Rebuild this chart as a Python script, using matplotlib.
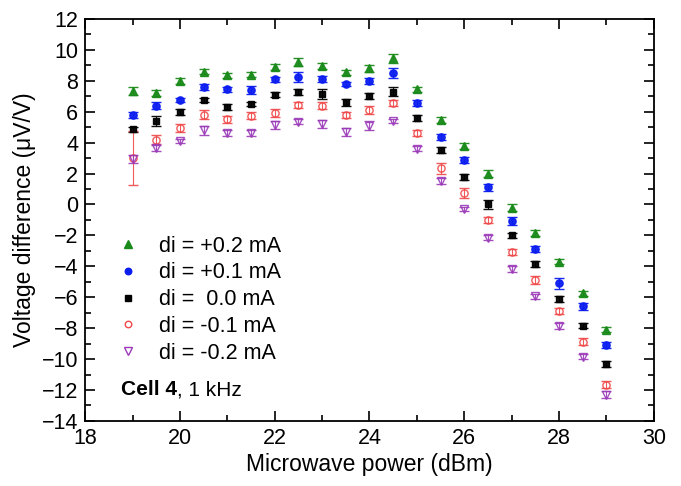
import matplotlib
matplotlib.use("Agg")
import matplotlib.pyplot as plt
from matplotlib.lines import Line2D
from matplotlib.ticker import MultipleLocator

plt.rcParams['font.family'] = ['Liberation Sans', 'DejaVu Sans']

power = [19, 19.5, 20, 20.5, 21, 21.5, 22, 22.5, 23, 23.5, 24, 24.5,
         25, 25.5, 26, 26.5, 27, 27.5, 28, 28.5, 29]

v_p02 = [7.35, 7.2, 8.0, 8.6, 8.35, 8.4, 8.9, 9.2, 8.95, 8.55, 8.8, 9.45,
         7.45, 5.45, 3.8, 2.0, -0.2, -1.86, -3.7, -5.75, -8.1]
e_p02 = [0.25, 0.2, 0.2, 0.15, 0.15, 0.15, 0.2, 0.25, 0.2, 0.15, 0.2, 0.3,
         0.15, 0.2, 0.2, 0.2, 0.2, 0.2, 0.15, 0.15, 0.15]

v_p01 = [5.8, 6.4, 6.75, 7.6, 7.45, 7.4, 8.1, 8.25, 8.1, 7.8, 8.0, 8.5,
         6.55, 4.35, 2.9, 1.1, -1.05, -2.88, -5.1, -6.6, -9.1]
e_p01 = [0.2, 0.25, 0.15, 0.2, 0.15, 0.25, 0.15, 0.3, 0.2, 0.15, 0.2, 0.3,
         0.2, 0.2, 0.2, 0.2, 0.25, 0.2, 0.35, 0.2, 0.2]

v_000 = [4.85, 5.4, 6.0, 6.75, 6.3, 6.5, 7.1, 7.3, 7.15, 6.6, 7.0, 7.3,
         5.6, 3.5, 1.8, 0.0, -2.0, -3.87, -6.1, -7.85, -10.3]
e_000 = [0.15, 0.3, 0.2, 0.15, 0.2, 0.15, 0.15, 0.2, 0.3, 0.2, 0.2, 0.3,
         0.2, 0.2, 0.2, 0.3, 0.15, 0.2, 0.2, 0.15, 0.2]

v_m01 = [3.0, 4.2, 4.95, 5.8, 5.5, 5.75, 5.9, 6.45, 6.4, 5.8, 6.1, 6.55,
         4.6, 2.35, 0.75, -1.0, -3.05, -4.88, -6.9, -8.87, -11.65]
e_m01 = [1.72, 0.3, 0.25, 0.3, 0.25, 0.25, 0.25, 0.2, 0.25, 0.2, 0.25, 0.2,
         0.2, 0.35, 0.3, 0.2, 0.2, 0.25, 0.2, 0.2, 0.25]

v_m02 = [2.95, 3.65, 4.1, 4.8, 4.6, 4.6, 5.15, 5.35, 5.2, 4.7, 5.1, 5.4,
         3.6, 1.5, -0.3, -2.15, -4.15, -5.95, -7.85, -9.85, -12.3]
e_m02 = [0.25, 0.2, 0.15, 0.3, 0.2, 0.2, 0.25, 0.15, 0.25, 0.25, 0.3, 0.15,
         0.15, 0.2, 0.15, 0.15, 0.2, 0.15, 0.2, 0.15, 0.25]

labels = ['di = +0.2 mA', 'di = +0.1 mA', 'di =  0.0 mA', 'di = -0.1 mA', 'di = -0.2 mA']

series = [
    (v_p02, e_p02, '^', '#1a8a1a', '#1a8a1a', 6.2),
    (v_p01, e_p01, 'o', '#0a1cf0', '#0a1cf0', 5.2),
    (v_000, e_000, 's', '#000000', '#000000', 4.6),
    (v_m01, e_m01, 'o', 'none', '#f04848', 5.2),
    (v_m02, e_m02, 'v', 'none', '#9a3ab8', 6.2),
]

fig = plt.figure(figsize=(6.81, 4.86), dpi=100)
ax = fig.add_axes([0.125, 0.134, 0.835, 0.827])

handles = []
for (vals, errs, mk, fc, ec, ms), lab in zip(series, labels):
    ax.errorbar(power, vals, yerr=errs, fmt=mk, mfc=fc, mec=ec, ms=ms,
                mew=1.0, ecolor=ec, elinewidth=0.8, capsize=3.5, capthick=0.8,
                alpha=0.95 if fc != 'none' else 0.9)
    handles.append(Line2D([], [], linestyle='none', marker=mk, mfc=fc, mec=ec,
                          ms=ms * 0.9, mew=1.0, label=lab))

ax.set_xlim(18, 30)
ax.set_ylim(-14, 12)
ax.xaxis.set_major_locator(MultipleLocator(2))
ax.xaxis.set_minor_locator(MultipleLocator(1))
ax.yaxis.set_major_locator(MultipleLocator(2))
ax.yaxis.set_minor_locator(MultipleLocator(1))
ax.tick_params(which='both', direction='in', top=True, right=True, width=1.2,
               labelsize=15.5, pad=5)
ax.tick_params(which='major', length=7)
ax.tick_params(which='minor', length=4)
for s in ax.spines.values():
    s.set_linewidth(1.3)

ax.set_xlabel('Microwave power (dBm)', fontsize=16.5, labelpad=3)
ax.set_ylabel('Voltage difference (\u03bcV/V)', fontsize=16.5, labelpad=4)

leg = ax.legend(handles=handles, loc='upper left', bbox_to_anchor=(0.056, 0.461),
                frameon=False, fontsize=15.5, handlelength=1.0, handletextpad=0.97,
                labelspacing=0.27, borderpad=0, borderaxespad=0)

t1 = ax.text(0.063, 0.077, 'Cell 4', transform=ax.transAxes, fontsize=15,
             fontweight='bold', va='center', ha='left')
fig.canvas.draw()
bb = t1.get_window_extent()
inv = ax.transAxes.inverted()
x_end = inv.transform((bb.x1, bb.y0))[0]
ax.text(x_end, 0.077, ', 1 kHz', transform=ax.transAxes, fontsize=15,
        va='center', ha='left')

fig.savefig('out.png', dpi=100)
